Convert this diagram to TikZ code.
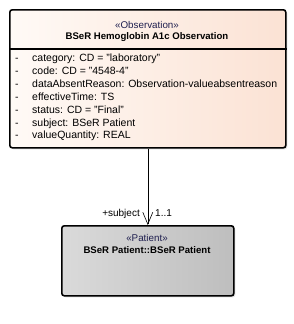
\documentclass[tikz,border=0pt]{standalone}
\usepackage{fontspec}
\setmainfont{Liberation Sans}
\usepackage{xcolor}
\usetikzlibrary{arrows.meta,positioning,shadows}

\definecolor{obsleft}{HTML}{FFFAF6}
\definecolor{obsright}{HTML}{FBE2D4}
\definecolor{patleft}{HTML}{DADADA}
\definecolor{patright}{HTML}{BEBEBE}
\definecolor{stereo}{HTML}{1F1F4F}

\tikzset{
  classbox/.style={draw=black, line width=1.6pt, rounded corners=2.5pt,
    drop shadow={shadow xshift=1.5pt, shadow yshift=-1.5pt, fill=black!25}},
  obsbox/.style={classbox, left color=obsleft, right color=obsright},
  patbox/.style={classbox, left color=patleft, right color=patright},
  attr/.style={anchor=base west, inner sep=0pt, font=\fontsize{10.5}{12}\selectfont},
  stereotype/.style={anchor=base, inner sep=0pt, text=stereo, font=\fontsize{9.8}{12}\selectfont},
  classname/.style={anchor=base, inner sep=0pt, font=\fontsize{9.6}{12}\selectfont\bfseries},
  rolelabel/.style={inner sep=0pt, font=\fontsize{10}{12}\selectfont}
}

\begin{document}
\begin{tikzpicture}[x=1pt,y=-1pt]
\useasboundingbox (0,0) rectangle (294,324);

% classes
\node[obsbox, minimum width=276pt, minimum height=138pt, anchor=north west] (obs) at (9,9) {};
\draw[line width=1.6pt] (obs.west |- 0,49) -- (obs.east |- 0,49);
\node[stereotype] (obsstereo) at (147,28) {«Observation»};
\node[classname] (obsname) at (147,39.5) {BSeR Hemoglobin A1c Observation};
\node[patbox, minimum width=172pt, minimum height=70pt, anchor=north west] (pat) at (61,225) {};
\node[stereotype] (patstereo) at (147,241) {«Patient»};
\node[classname] (patname) at (147,253.5) {BSeR Patient::BSeR Patient};

% attributes
\foreach \i/\t in {0/{category: CD = "laboratory"}, 1/{code: CD = "4548-4"},
  2/{dataAbsentReason: Observation-valueabsentreason}, 3/{effectiveTime: TS},
  4/{status: CD = "Final"}, 5/{subject: BSeR Patient}, 6/{valueQuantity: REAL}} {
  \node[attr] (dash\i) at (15,{61.5+12.9*\i}) {-};
  \node[attr] (attr\i) at (32,{61.5+12.9*\i}) {\t};
}

% association
\draw[-{Straight Barb[length=12pt,width=10pt]}, line width=0.6pt] (obs.south) -- (pat.north);
\node[rolelabel, anchor=base east] (role) at (140,216) {+subject};
\node[rolelabel, anchor=base west] (mult) at (155,216) {1..1};
\end{tikzpicture}
\end{document}
